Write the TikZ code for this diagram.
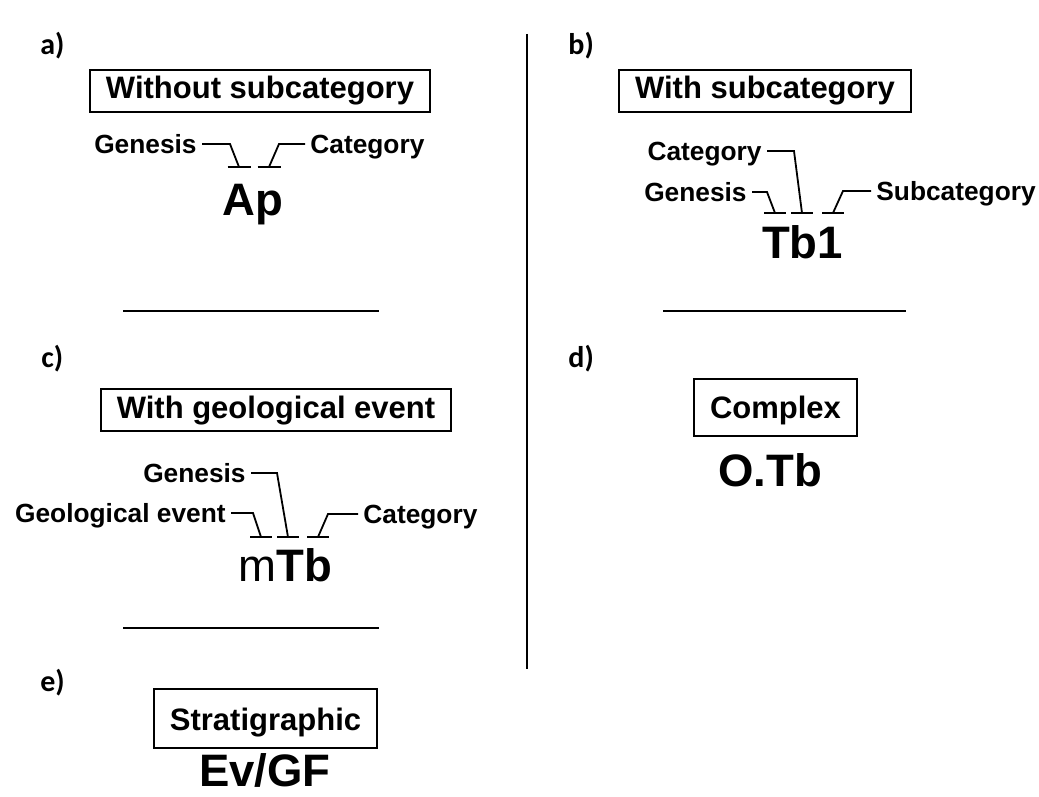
\documentclass[tikz,border=0pt]{standalone}
\usepackage{fontspec}
\setmainfont{Liberation Sans}
\newfontfamily\panelfont{Carlito}
\usetikzlibrary{positioning}

\begin{document}
\begin{tikzpicture}[x=0.5pt, y=-0.5pt,
        catbox/.style={draw, line width=1pt, font=\fontsize{15.5}{18}\selectfont\bfseries, inner xsep=8pt, inner ysep=0pt, text height=14.5pt, text depth=6.5pt},
        tallbox/.style={catbox, text height=19.5pt, text depth=9pt},
        code/.style={font=\fontsize{22.75}{27}\selectfont\bfseries, anchor=base, inner sep=0pt},
        part/.style={font=\fontsize{13.15}{16}\selectfont\bfseries, text height=9.4pt, text depth=0pt, inner ysep=0pt, inner xsep=2.5pt},
        panel/.style={font=\panelfont\fontsize{15}{18}\selectfont\bfseries, anchor=west, inner sep=0pt},
        lead/.style={line width=0.9pt},
        sep/.style={line width=1.2pt}]
        \useasboundingbox (0,0) rectangle (1039,797);

        % panel labels
        \node[panel] (pa) at (40,46) {a)};
        \node[panel] (pb) at (568,46) {b)};
        \node[panel] (pc) at (41,359) {c)};
        \node[panel] (pd) at (568,359) {d)};
        \node[panel] (pe) at (40,683) {e)};

        % separators
        \draw[sep] (527,34) -- (527,669);
        \draw[sep] (123,311) -- (379,311);
        \draw[sep] (663,311) -- (906,311);
        \draw[sep] (123,628) -- (379,628);

        % a) without subcategory
        \node[catbox] (boxa) at (260,91) {Without subcategory};
        \node[code] (ap) at (252.5,215) {Ap};
        \node[part, anchor=east] (gen_a) at (202,144) {Genesis};
        \node[part, anchor=west] (cat_a) at (305,144) {Category};
        \coordinate (s_a1) at (239,167);
        \coordinate (s_a2) at (269,167);
        \draw[lead] (gen_a.east) -- ++(28,0) -- (s_a1);
        \draw[lead] (cat_a.west) -- ++(-26,0) -- (s_a2);
        \draw[lead] ([xshift=-5.75pt]s_a1) -- ([xshift=5.75pt]s_a1);
        \draw[lead] ([xshift=-5.75pt]s_a2) -- ([xshift=5.75pt]s_a2);

        % b) with subcategory
        \node[catbox] (boxb) at (765,91) {With subcategory};
        \node[code] (tb1) at (802.5,258) {Tb1};
        \node[part, anchor=east] (cat_b) at (767,151) {Category};
        \node[part, anchor=east] (gen_b) at (752,192) {Genesis};
        \node[part, anchor=west] (sub_b) at (871,191) {Subcategory};
        \coordinate (s_b1) at (775,213);
        \coordinate (s_b2) at (802,213);
        \coordinate (s_b3) at (833,213);
        \draw[lead] (gen_b.east) -- ++(15,0) -- (s_b1);
        \draw[lead] (cat_b.east) -- ++(27,0) -- (s_b2);
        \draw[lead] (sub_b.west) -- ++(-28,0) -- (s_b3);
        \draw[lead] ([xshift=-5.5pt]s_b1) -- ([xshift=5.5pt]s_b1);
        \draw[lead] ([xshift=-5.5pt]s_b2) -- ([xshift=5.5pt]s_b2);
        \draw[lead] ([xshift=-5.5pt]s_b3) -- ([xshift=5.5pt]s_b3);

        % c) with geological event
        \node[catbox] (boxc) at (276,410) {With geological event};
        \node[code] (mtb) at (285.5,581) {{\mdseries m}Tb};
        \node[part, anchor=east] (gen_c) at (251,473) {Genesis};
        \node[part, anchor=east] (geo_c) at (231,513) {Geological event};
        \node[part, anchor=west] (cat_c) at (358,514) {Category};
        \coordinate (s_c1) at (261,537);
        \coordinate (s_c2) at (288,537);
        \coordinate (s_c3) at (318,537);
        \draw[lead] (geo_c.east) -- ++(22,0) -- (s_c1);
        \draw[lead] (gen_c.east) -- ++(26,0) -- (s_c2);
        \draw[lead] (cat_c.west) -- ++(-30,0) -- (s_c3);
        \draw[lead] ([xshift=-5.5pt]s_c1) -- ([xshift=5.5pt]s_c1);
        \draw[lead] ([xshift=-5.5pt]s_c2) -- ([xshift=5.5pt]s_c2);
        \draw[lead] ([xshift=-5.5pt]s_c3) -- ([xshift=5.5pt]s_c3);

        % d) complex
        \node[tallbox] (boxd) at (775.5,407.5) {Complex};
        \node[code] (otb) at (770,486) {O.Tb};

        % e) stratigraphic
        \node[tallbox, text height=20.5pt] (boxe) at (265.5,718.5) {Stratigraphic};
        \node[code] (evgf) at (265,786) {Ev/GF};
\end{tikzpicture}
\end{document}
